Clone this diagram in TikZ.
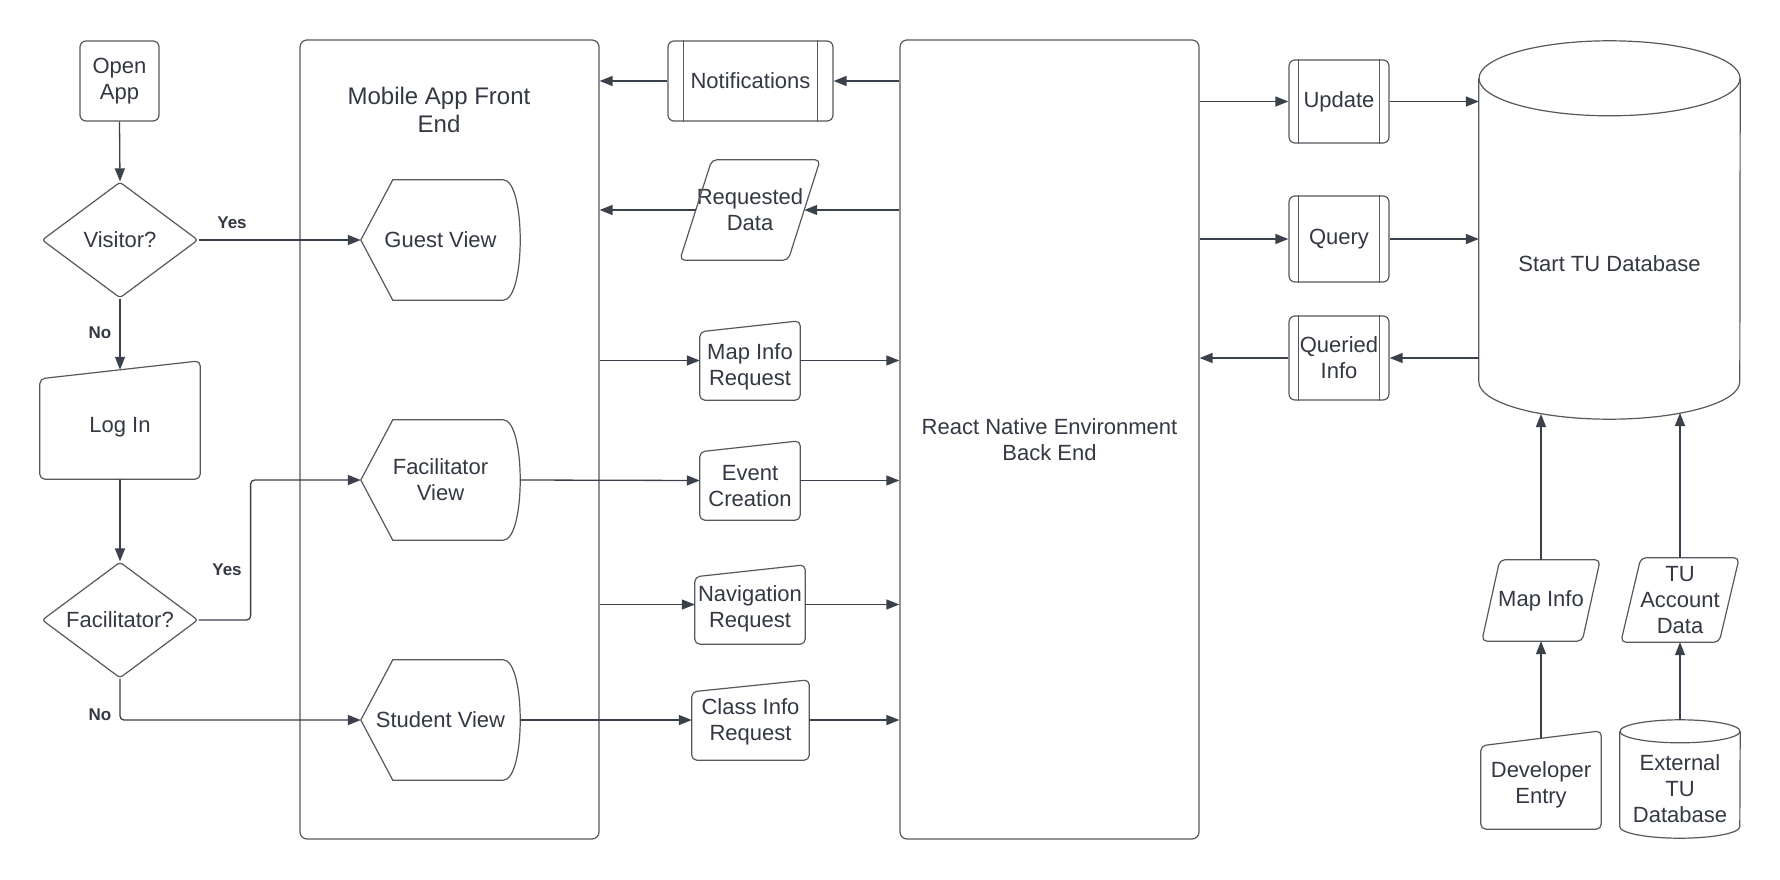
\documentclass[tikz,border=0pt]{standalone}
\usepackage{fontspec}
\setmainfont{Liberation Sans}
\usetikzlibrary{shapes.geometric,arrows.meta,calc}
\definecolor{txtc}{RGB}{51,56,66}
\definecolor{shpc}{RGB}{85,88,94}
\definecolor{arrc}{RGB}{58,65,74}
\tikzset{
  txt/.style={text=txtc, font=\fontsize{22}{26}\selectfont, align=center},
  sz/.style 2 args={minimum width=#1, minimum height=#2},
  ghost/.style={txt, inner sep=0pt, draw=none},
  shp/.style={draw=shpc, line width=1.2pt},
  rbox/.style={ghost, shp, rounded corners=6pt},
  panel/.style={shp, inner sep=0pt, rounded corners=7pt},
  decide/.style={diamond, ghost, shp, aspect=1.345, rounded corners=3pt},
  arr/.style={draw=arrc, line width=1.3pt, -{Triangle[length=13pt,width=10pt]}},
  lbl/.style={text=txtc, font=\fontsize{17}{19}\selectfont\bfseries, inner sep=0pt},
}
\newcommand\drawManual[2]{\draw[shp,rounded corners=5pt] (#1.south west) -- ([yshift=-#2]#1.north west) -- (#1.north east) -- (#1.south east) -- cycle;}
\newcommand\drawPara[2]{\draw[shp,rounded corners=5pt] (#1.south west) -- ([xshift=#2]#1.north west) -- (#1.north east) -- ([xshift=-#2]#1.south east) -- cycle;}
\newcommand\drawPredef[2]{\draw[shp] ([xshift=#2]#1.south west) -- ([xshift=#2]#1.north west) ([xshift=-#2]#1.south east) -- ([xshift=-#2]#1.north east);}
\newcommand\drawDisplay[1]{\draw[shp] (#1.west) -- ([xshift=32pt]#1.north west) -- ([xshift=-17pt]#1.north east) .. controls ([xshift=5.7pt]#1.north east) and ([xshift=5.7pt]#1.south east) .. ([xshift=-17pt]#1.south east) -- ([xshift=32pt]#1.south west) -- cycle;}
\newcommand\drawCyl[3]{%
  \draw[shp] ([yshift=-#3]#1.north west) -- ([yshift=#3]#1.south west) arc[start angle=180,end angle=360,x radius=#2,y radius=#3] -- ([yshift=-#3]#1.north east);
  \draw[shp] ([yshift=-#3]#1.north) ellipse[x radius=#2, y radius=#3];}
\begin{document}
\begin{tikzpicture}[x=1pt,y=-1pt]
\fill[white] (0,0) rectangle (1780,880);
\useasboundingbox (0,0) rectangle (1780,880);

% panels
\node[panel, sz={299pt}{799pt}] (front) at (449.5,439.5) {};
\node[txt, font=\fontsize{24}{28.5}\selectfont] (ftitle) at (439,110) {Mobile App Front\\End};
\node[panel, txt, sz={299pt}{799pt}] (back) at (1049.5,439.5) {React Native Environment\\Back End};

% left flow
\node[rbox, sz={79pt}{80pt}] (open) at (119.5,81) {Open\\App};
\node[decide, sz={156pt}{116pt}] (visitor) at (120,240) {Visitor?};
\node[ghost, sz={160pt}{118pt}, label={[txt,yshift=-7pt]center:Log In}] (login) at (120,420) {};
\drawManual{login}{18pt}
\node[decide, sz={156pt}{116pt}] (facil) at (120,620) {Facilitator?};

% views
\node[ghost, sz={159pt}{120pt}] (guest) at (440.5,240) {Guest View};
\drawDisplay{guest}
\node[ghost, sz={159pt}{120pt}] (facview) at (440.5,480) {Facilitator\\View};
\drawDisplay{facview}
\node[ghost, sz={159pt}{120pt}] (student) at (440.5,720) {Student View};
\drawDisplay{student}

% middle column
\node[rbox, sz={165pt}{80pt}] (notif) at (750.5,81) {Notifications};
\drawPredef{notif}{16pt}
\node[ghost, sz={140pt}{100pt}] (reqdata) at (750,210) {Requested\\Data};
\drawPara{reqdata}{32pt}
\node[ghost, sz={100pt}{79pt}, label={[txt,yshift=-6pt]center:{Map Info\\Request}}] (mapreq) at (750,360.5) {};
\drawManual{mapreq}{11pt}
\node[ghost, sz={100pt}{79pt}, label={[txt,yshift=-6pt]center:{Event\\Creation}}] (eventc) at (750,480.5) {};
\drawManual{eventc}{11pt}
\node[ghost, sz={110pt}{79pt}, label={[txt,yshift=-4pt]center:{Navigation\\Request}}] (nav) at (750,604.5) {};
\drawManual{nav}{12pt}
\node[ghost, sz={117pt}{80pt}, label={[txt,yshift=-2pt]center:{Class Info\\Request}}] (classreq) at (750.5,720) {};
\drawManual{classreq}{12pt}

% right column
\node[rbox, sz={100pt}{83pt}] (update) at (1339,101.5) {Update};
\drawPredef{update}{10pt}
\node[rbox, sz={100pt}{86pt}] (query) at (1339,239) {Query};
\drawPredef{query}{10pt}
\node[rbox, sz={100pt}{84pt}] (queried) at (1339,358) {Queried\\Info};
\drawPredef{queried}{10pt}

\node[ghost, sz={261pt}{378pt}, label={[txt,yshift=-34pt]center:Start TU Database}] (db) at (1609.5,230) {};
\drawCyl{db}{130.5pt}{37.5pt}

\node[ghost, sz={118pt}{81pt}] (mapinfo) at (1541,600.5) {Map Info};
\drawPara{mapinfo}{18pt}
\node[ghost, sz={118pt}{84pt}] (tuacct) at (1680,600) {TU\\Account\\Data};
\drawPara{tuacct}{20pt}
\node[ghost, sz={120pt}{98pt}, label={[txt,yshift=-5pt]center:{Developer\\Entry}}] (dev) at (1541,780) {};
\drawManual{dev}{15pt}
\node[ghost, sz={120pt}{118pt}, label={[txt,yshift=-9.5pt]center:{External\\TU\\Database}}] (extdb) at (1680,779) {};
\drawCyl{extdb}{60pt}{11.5pt}

\coordinate (dbin1) at (1541,414);
\coordinate (dbin2) at (1680,413);

% connectors left
\draw[arr] (open.south) -- (visitor.north);
\draw[arr] (visitor.south) -- ([yshift=-9pt]login.north);
\draw[arr] (login.south) -- (facil.north);
\draw[arr] (visitor.east) -- (guest.west);
\draw[arr, rounded corners=4pt] (facil.east) -- ++(52,0) |- (facview.west);
\draw[arr, rounded corners=4pt] (facil.south) |- (student.west);
\node[lbl] (yes1) at (232,223) {Yes};
\node[lbl] (no1) at (100,333) {No};
\node[lbl] (yes2) at (227,570) {Yes};
\node[lbl] (no2) at (100,715) {No};

% connectors middle
\draw[arr] (notif.west) -- (notif.west -| front.east);
\draw[arr] (notif.east -| back.west) -- (notif.east);
\draw[arr] (reqdata.east -| back.west) -- ([xshift=-16pt]reqdata.east);
\draw[arr] ([xshift=16pt]reqdata.west) -- (reqdata.west -| front.east);
\draw[arr] (mapreq.west -| front.east) -- (mapreq.west);
\draw[arr] (mapreq.east) -- (mapreq.east -| back.west);
\draw[arr] (facview.east) -- (eventc.west);
\draw[arr] (eventc.east) -- (eventc.east -| back.west);
\draw[arr] (nav.west -| front.east) -- (nav.west);
\draw[arr] (nav.east) -- (nav.east -| back.west);
\draw[arr] (student.east) -- (classreq.west);
\draw[arr] (classreq.east) -- (classreq.east -| back.west);

% connectors right
\draw[arr] (update.west -| back.east) -- (update.west);
\draw[arr] (update.east) -- (update.east -| db.west);
\draw[arr] (query.west -| back.east) -- (query.west);
\draw[arr] (query.east) -- (query.east -| db.west);
\draw[arr] (queried.east -| db.west) -- (queried.east);
\draw[arr] (queried.west) -- (queried.west -| back.east);
\draw[arr] ([yshift=-7.5pt]dev.north) -- (mapinfo.south);
\draw[arr] (mapinfo.north) -- (dbin1);
\draw[arr] (extdb.north) -- (tuacct.south);
\draw[arr] (tuacct.north) -- (dbin2);
\end{tikzpicture}
\end{document}
